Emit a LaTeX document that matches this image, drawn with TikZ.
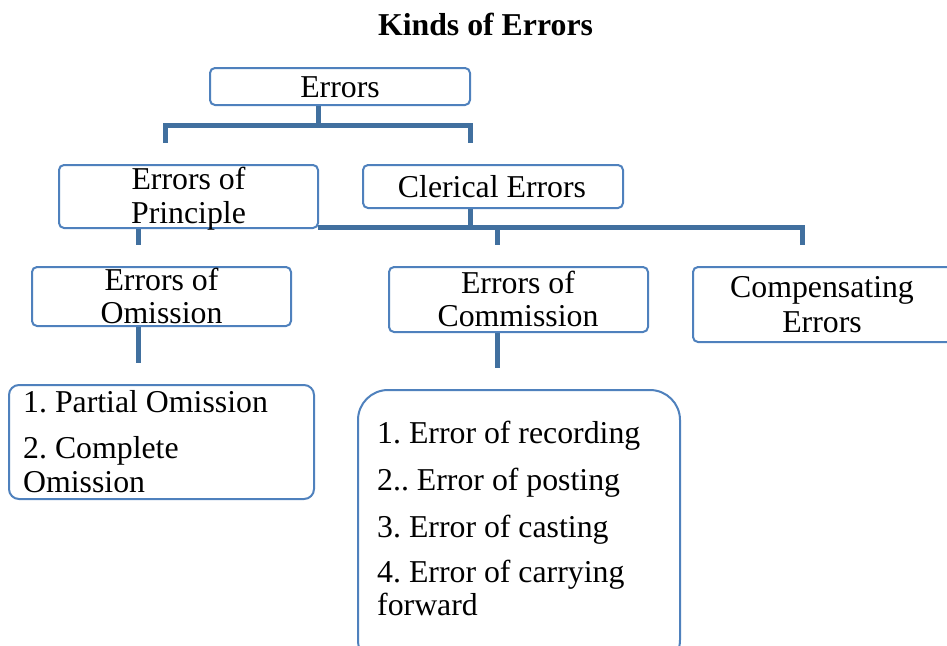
\documentclass[tikz,border=0pt]{standalone}
\usepackage{fontspec}
\setmainfont{Liberation Serif}
\usetikzlibrary{calc}
\definecolor{boxblue}{HTML}{4F81BD}
\definecolor{linkblue}{HTML}{41709F}
\pgfdeclarelayer{background}
\pgfsetlayers{background,main}
\frenchspacing
\newcommand{\bodysize}{\fontsize{31.8}{33.5}\selectfont}
\tikzset{
  box/.style={draw=boxblue, line width=2pt, fill=white, rounded corners=5pt,
              inner sep=0pt, outer sep=0pt},
  txt/.style={font=\bodysize, inner sep=0pt, anchor=base},
  item/.style={txt, anchor=base west},
  link/.style={draw=linkblue, line width=5pt},
}
\begin{document}
\begin{tikzpicture}[x=1pt, y=-1pt]
  \clip (0,0) rectangle (947,645);

  % title
  \node[txt, font=\bodysize\bfseries] (title) at (485.5,35) {Kinds of Errors};

  % top level
  \node[box, minimum width=260pt, minimum height=37pt] (errors) at (340,86.5) {};
  \node[txt] (errorsT) at (340,97) {Errors};

  % second level
  \node[box, minimum width=259pt, minimum height=63pt] (principle) at (188.5,196.5) {};
  \node[txt] (principleT1) at (188.5,189) {Errors of};
  \node[txt] (principleT2) at (188.5,223) {Principle};

  \node[box, minimum width=260pt, minimum height=43pt] (clerical) at (493,186.5) {};
  \node[txt] (clericalT) at (492,197) {Clerical Errors};

  % third level
  \node[box, minimum width=259pt, minimum height=59pt] (omission) at (161.5,296.5) {};
  \node[txt] (omissionT1) at (161.5,290) {Errors of};
  \node[txt] (omissionT2) at (161.5,323) {Omission};

  \node[box, minimum width=259pt, minimum height=65pt] (commission) at (518.5,299.5) {};
  \node[txt] (commissionT1) at (518,293) {Errors of};
  \node[txt] (commissionT2) at (518,326) {Commission};

  \node[box, minimum width=259pt, minimum height=75pt] (compensating) at (822.5,304.5) {};
  \node[txt] (compensatingT1) at (822,297) {Compensating};
  \node[txt] (compensatingT2) at (822,332) {Errors};

  % lists
  \node[box, rounded corners=10pt, minimum width=305pt, minimum height=114pt] (omlist) at (161.5,442) {};
  \node[item] (om1) at (23,412) {1. Partial Omission};
  \node[item] (om2a) at (23,458) {2. Complete};
  \node[item] (om2b) at (23,492) {Omission};

  \node[box, rounded corners=30pt, minimum width=322pt, minimum height=280pt] (comlist) at (519,530) {};
  \node[item] (com1) at (377,443) {1. Error of recording};
  \node[item] (com2) at (377,490) {2.. Error of posting};
  \node[item] (com3) at (377,537) {3. Error of casting};
  \node[item] (com4a) at (377,582) {4. Error of carrying};
  \node[item] (com4b) at (377,615) {forward};

  % connectors, behind the boxes
  \begin{pgfonlayer}{background}
    \coordinate (hubA) at (318,125);
    \coordinate (dropA1) at (165,143);
    \coordinate (dropA2) at (470,143);
    \draw[link] (errors.south -| hubA) -- (hubA);
    \draw[link] (dropA1) |- (dropA2 |- hubA) -- (dropA2);

    \coordinate (hubB) at (470,227);
    \coordinate (dropB1) at (497,245);
    \coordinate (dropB2) at (802,245);
    \draw[link] (clerical.south -| hubB) -- (hubB);
    \draw[link] (principle.east |- hubB) -| (dropB2);
    \draw[link] (dropB1 |- hubB) -- (dropB1);

    \coordinate (stubP) at (138,245);
    \draw[link] (principle.south -| stubP) -- (stubP);
    \coordinate (stubO) at (138,363);
    \draw[link] (omission.south -| stubO) -- (stubO);
    \coordinate (stubC) at (497,368);
    \draw[link] (commission.south -| stubC) -- (stubC);
  \end{pgfonlayer}
\end{tikzpicture}
\end{document}
